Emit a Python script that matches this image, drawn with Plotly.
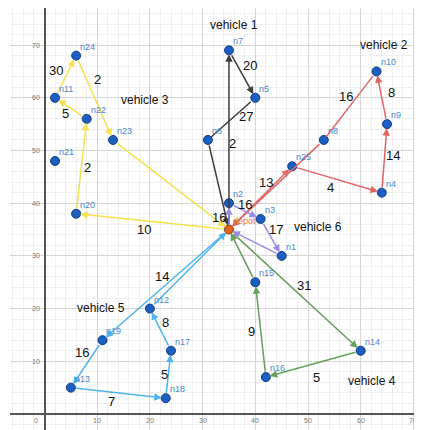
import plotly.graph_objects as go

# ---- data ----
node_names = ["depot", "n1", "n2", "n3", "n4", "n5", "n6", "n7", "n8", "n9", "n10",
              "n11", "n12", "n13", "n14", "n15", "n16", "n17", "n18", "n19", "n20",
              "n21", "n22", "n23", "n24", "n25"]
node_x = [35, 45, 35, 41, 64, 40, 31, 35, 53, 65, 63,
          2, 20, 5, 60, 40, 42, 24, 23, 11, 6,
          2, 8, 13, 6, 47]
node_y = [35, 30, 40, 37, 42, 60, 52, 69, 52, 55, 65,
          60, 20, 5, 12, 25, 7, 12, 3, 14, 38,
          48, 56, 52, 68, 47]

vehicle_names = ["vehicle 1", "vehicle 2", "vehicle 3", "vehicle 4", "vehicle 5", "vehicle 6"]
vehicle_routes = [
    ["depot", "n7", "n5", "n6", "depot"],
    ["depot", "n25", "n4", "n9", "n10", "n8", "depot"],
    ["depot", "n20", "n22", "n11", "n24", "n23", "depot"],
    ["depot", "n14", "n16", "n15", "depot"],
    ["depot", "n19", "n13", "n18", "n17", "n12", "depot"],
    ["depot", "n2", "n3", "n1", "depot"],
]
# edges drawn without an arrowhead in the picture
plain_edges = [("n5", "n6"), ("n10", "n8")]
vehicle_colors = ["#3d3d3d", "#e06666", "#f7e04e", "#64a05a", "#4db4ef", "#9a8ce4"]
vehicle_label_x = [36.0, 64.4, 19.1, 62.1, 10.7, 51.9]
vehicle_label_y = [73.8, 70.0, 59.6, 6.3, 20.1, 35.5]

num_labels = ["30", "2", "5", "2", "10", "20", "27", "2", "16", "8", "14", "13", "4",
              "16", "16", "17", "31", "9", "5", "14", "8", "16", "5", "7"]
num_x = [2.2, 10.1, 3.9, 8.1, 18.9, 39.0, 38.2, 35.6, 57.2, 65.9, 66.1, 42.0, 54.2,
         38.0, 33.1, 43.9, 49.2, 39.2, 51.7, 22.3, 23.0, 7.1, 22.7, 12.8]
num_y = [65.1, 63.4, 57.1, 46.7, 35.1, 66.2, 56.4, 51.4, 60.3, 61.1, 49.1, 44.0, 42.9,
         39.8, 37.2, 35.1, 24.3, 15.6, 7.0, 26.0, 17.3, 11.6, 7.4, 2.3]

tick_values = [10, 20, 30, 40, 50, 60, 70]

# ---- figure ----
pos = {n: (x, y) for n, x, y in zip(node_names, node_x, node_y)}
fig = go.Figure()
annotations = []

for route, color in zip(vehicle_routes, vehicle_colors):
    for a, b in zip(route[:-1], route[1:]):
        head = 0 if (a, b) in plain_edges else 2
        annotations.append(dict(
            x=pos[b][0], y=pos[b][1], ax=pos[a][0], ay=pos[a][1],
            xref="x", yref="y", axref="x", ayref="y", text="",
            showarrow=True, arrowhead=head, arrowsize=1.0, arrowwidth=1.5,
            arrowcolor=color, standoff=4, startstandoff=4))

cust = [i for i, n in enumerate(node_names) if n != "depot"]
fig.add_trace(go.Scatter(
    x=[node_x[i] for i in cust], y=[node_y[i] for i in cust],
    mode="markers", text=[node_names[i] for i in cust],
    marker=dict(size=9, color="#1d5fc0", line=dict(color="#0f3c86", width=1)),
    hoverinfo="text", showlegend=False))
di = node_names.index("depot")
fig.add_trace(go.Scatter(
    x=[node_x[di]], y=[node_y[di]], mode="markers", text=["depot"],
    marker=dict(size=9, color="#e0651e", line=dict(color="#8a3a10", width=1)),
    hoverinfo="text", showlegend=False))

# node name labels (drawn above the route lines)
for n, x, y in zip(node_names, node_x, node_y):
    col = "#e07a3a" if n == "depot" else "#4a86d0"
    annotations.append(dict(x=x, y=y, xref="x", yref="y", text=n, showarrow=False,
                            xanchor="left", yanchor="bottom", xshift=2, yshift=2,
                            font=dict(size=9, color=col, family="Liberation Sans")))

for name, x, y in zip(vehicle_names, vehicle_label_x, vehicle_label_y):
    annotations.append(dict(x=x, y=y, xref="x", yref="y", text=name, showarrow=False,
                            font=dict(size=12, color="#111", family="Liberation Sans")))
for t, x, y in zip(num_labels, num_x, num_y):
    annotations.append(dict(x=x, y=y, xref="x", yref="y", text=t, showarrow=False,
                            font=dict(size=13, color="#111", family="Liberation Sans")))

tick_font = dict(size=7, color="#777", family="Liberation Sans")
for t in tick_values:
    annotations.append(dict(x=t, y=0, xref="x", yref="y", text=str(t), showarrow=False,
                            yshift=-7, font=tick_font))
    annotations.append(dict(x=0, y=t, xref="x", yref="y", text=str(t), showarrow=False,
                            xanchor="right", xshift=-3, font=tick_font))
annotations.append(dict(x=0, y=0, xref="x", yref="y", text="0", showarrow=False,
                        xanchor="right", xshift=-5, yshift=-7, font=tick_font))

axis_common = dict(showticklabels=False, ticks="", dtick=10, tick0=0,
                   showgrid=True, gridcolor="#d4d4d4", gridwidth=1,
                   minor=dict(dtick=2, tick0=0, showgrid=True, gridcolor="#efefef", gridwidth=1),
                   zeroline=True, zerolinecolor="#555", zerolinewidth=1.5,
                   showline=False, fixedrange=True)
fig.update_layout(
    width=414, height=422,
    margin=dict(l=2, r=2, t=0, b=0),
    paper_bgcolor="white", plot_bgcolor="white",
    xaxis=dict(range=[-6.55, 71.25], **axis_common),
    yaxis=dict(range=[-3.04, 77.04], **axis_common),
    annotations=annotations,
    showlegend=False,
)
fig.write_html("out.html")
